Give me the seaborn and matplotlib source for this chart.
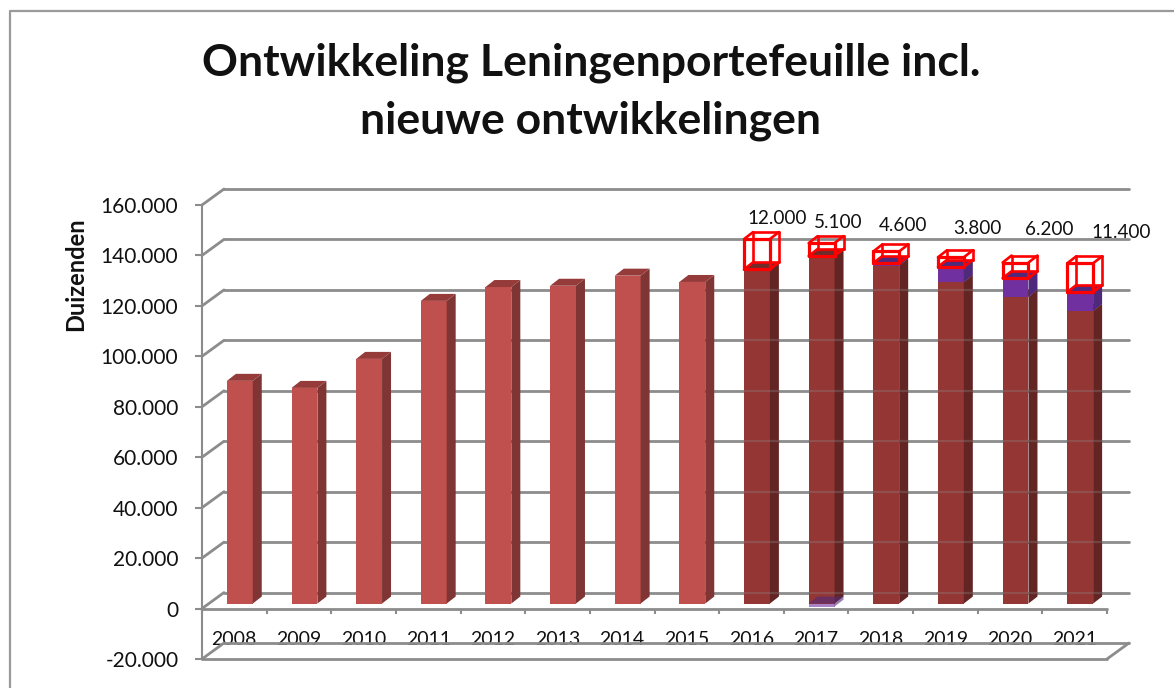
import numpy as np
import pandas as pd
import matplotlib
matplotlib.use("Agg")
import matplotlib.pyplot as plt
from matplotlib.lines import Line2D
from matplotlib.patches import Polygon
from matplotlib.ticker import FuncFormatter, FixedLocator
from matplotlib.transforms import IdentityTransform, Affine2D
import seaborn as sns

# ---- data -------------------------------------------------------------
YEARS = ["2008", "2009", "2010", "2011", "2012", "2013", "2014",
         "2015", "2016", "2017", "2018", "2019", "2020", "2021"]
REALIZED = [88300, 85500, 97000, 120000, 125500, 126000, 130000, 127500,
            0, 0, 0, 0, 0, 0]
PLANNED = [0, 0, 0, 0, 0, 0, 0, 0,
           132500, 137800, 134000, 127500, 121600, 116000]
EXTRA = [0, 0, 0, 0, 0, 0, 0, 0,
         0, -1200, 1000, 6000, 7400, 7500]
NEW_DEV = [0, 0, 0, 0, 0, 0, 0, 0,
           12000, 5100, 4600, 3800, 6200, 11400]
Y_TICKS = [-20000, 0, 20000, 40000, 60000, 80000, 100000, 120000, 140000, 160000]
TITLE = "Ontwikkeling Leningenportefeuille incl.\nnieuwe ontwikkelingen"
Y_LABEL = "Duizenden"

# ---- style (pixels in the 1174x688 picture) ---------------------------
W, H = 1174, 688
LEFT, RIGHT, TOP_Y, BOTTOM_Y = 202, 1107, 205, 659
WALL = (22, 16)        # depth of the chart box
BAR_SHIFT = (5.5, 5)   # bars stand in the middle of the depth
BAR_DEPTH = (9, 7)
LABEL_SHIFT = [(20, 21), (17, 21), (16.5, 26), (26, 29), (34, 33), (41, 31)]
GRID = "#8C8C8C"
C_REAL = ("#C0504D", "#7E3533", "#953B39")
C_PLAN = ("#943634", "#632523", "#6E2B2A")
C_EXTRA = ("#7030A0", "#4F2A7C", "#4F2A7C")
C_BOX = "#FF0000"
FONT = ["Lato", "DejaVu Sans"]

sns.set_theme(style="white")
plt.rcParams["font.family"] = FONT

fig = plt.figure(figsize=(W / 100, H / 100), dpi=100)
ax = fig.add_axes([LEFT / W, 1 - BOTTOM_Y / H, (RIGHT - LEFT) / W, (BOTTOM_Y - TOP_Y) / H])
ax.patch.set_alpha(0)

real = np.array(REALIZED, float)
plan = np.array(PLANNED, float)
extra = np.array(EXTRA, float)
new = np.array(NEW_DEV, float)
extra_bottom = np.where(extra < 0, 0, plan)
box_bottom = plan + np.maximum(extra, 0)


def layer(values, bottom, **kws):
    """One stacked layer through seaborn; returns its new bar patches."""
    before = len(ax.patches)
    frame = pd.DataFrame({"jaar": YEARS, "waarde": values})
    sns.barplot(data=frame, x="jaar", y="waarde", order=YEARS, width=0.4,
                saturation=1, errorbar=None, bottom=bottom, ax=ax, linewidth=0, **kws)
    return list(ax.patches[before:])


bars_real = layer(real, 0, color=C_REAL[0], zorder=3)
bars_plan = layer(plan, 0, color=C_PLAN[0], zorder=3)
bars_extra = layer(extra, extra_bottom, color=C_EXTRA[0], zorder=3.2)
bars_box = layer(new, box_bottom, color=C_BOX, zorder=5)

ax.set_xlim(-0.5, len(YEARS) - 0.5)
ax.set_ylim(-20000, 160000)
ax.set_xlabel("")
ax.set_ylabel("")
ax.grid(False)
fig.canvas.draw()


def to_px(x, y):
    return ax.transData.transform((x, y))


def poly(points, color, z, alpha=1):
    ax.add_patch(Polygon(points, closed=True, facecolor=color, edgecolor="none", alpha=alpha,
                         transform=IdentityTransform(), zorder=z, clip_on=False))


def seg(p, q, color=GRID, lw=2.0, z=1, alpha=1):
    ax.add_line(Line2D([p[0], q[0]], [p[1], q[1]], color=color, lw=lw, alpha=alpha,
                       transform=IdentityTransform(), zorder=z, clip_on=False,
                       solid_capstyle="round"))


def corners(bar):
    x0, y0 = bar.get_xy()
    a = to_px(x0, y0) + BAR_SHIFT
    b = to_px(x0 + bar.get_width(), y0 + bar.get_height()) + BAR_SHIFT
    return a[0], a[1], b[0], b[1]


def solid(bars, colors, z):
    dx, dy = BAR_DEPTH
    for bar in bars:
        height = bar.get_height()
        bar.set_visible(False)
        if height == 0:
            continue
        x0, y0, x1, y1 = corners(bar)
        alpha = 0.6 if height < 0 else 1
        y_low, y_high = min(y0, y1), max(y0, y1)
        poly([(x0, y_low), (x1, y_low), (x1, y_high), (x0, y_high)], colors[0], z, alpha)
        poly([(x1, y_low), (x1 + dx, y_low + dy), (x1 + dx, y_high + dy), (x1, y_high)], colors[1], z, alpha)
        poly([(x0, y_high), (x1, y_high), (x1 + dx, y_high + dy), (x0 + dx, y_high + dy)], colors[2], z, alpha)


solid(bars_real, C_REAL, 3)
solid(bars_plan, C_PLAN, 3)
solid(bars_extra, C_EXTRA, 3.2)

# wire-frame boxes and their labels
dx, dy = BAR_DEPTH
label_iter = iter(LABEL_SHIFT)
for bar, val in zip(bars_box, new):
    bar.set_visible(False)
    if val == 0:
        continue
    x0, y0, x1, y1 = corners(bar)
    front = [(x0, y0), (x1, y0), (x1, y1), (x0, y1), (x0, y0)]
    back = [(x + dx, y + dy) for x, y in front]
    for a, b in zip(front[:-1], front[1:]):
        seg(a, b, C_BOX, 2.3, 6)
    for a, b in zip(back[:-1], back[1:]):
        seg(a, b, C_BOX, 1.9, 6)
    for a, b in zip(front[:-1], back[:-1]):
        seg(a, b, C_BOX, 1.9, 6)
    sx, sy = next(label_iter)
    ax.text((x0 + x1) / 2 + sx, y1 + sy, f"{val:,.0f}".replace(",", "."),
            transform=IdentityTransform(), ha="center", va="center",
            fontsize=13.6, color="#111111", zorder=7, clip_on=False)

# chart box: walls, floor, base
wx, wy = WALL
n = len(YEARS)
for v in Y_TICKS:
    f0 = to_px(-0.5, v)
    f1 = to_px(n - 0.5, v)
    seg(f0, f0 + (wx, wy))
    seg(f0 + (wx, wy), f1 + (wx, wy))
    # the wall lines shimmer faintly through the dark bars
    for bar, val in zip(bars_plan, plan):
        if val and v >= 0 and v + wy / 2.52 * 1000 < val:
            x0, _, x1, _ = corners(bar)
            seg((x0, f0[1] + wy), (x1 + BAR_DEPTH[0], f0[1] + wy), lw=1.6, z=4, alpha=0.3)
seg(to_px(-0.5, 0), to_px(n - 0.5, 0))
seg(to_px(-0.5, -20000), to_px(n - 0.5, -20000))
seg(to_px(n - 0.5, -20000), to_px(n - 0.5, -20000) + (wx, wy))

# axes, ticks, labels
for side in ("top", "right"):
    ax.spines[side].set_visible(False)
ax.spines["left"].set_color(GRID)
ax.spines["left"].set_linewidth(1.5)
ax.spines["bottom"].set_visible(False)
ax.yaxis.set_major_locator(FixedLocator(Y_TICKS))
ax.yaxis.set_major_formatter(FuncFormatter(lambda v, _: f"{v:,.0f}".replace(",", ".")))
ax.tick_params(axis="y", which="major", left=True, length=5, width=1.5, color=GRID,
               pad=12, labelsize=15, labelcolor="#111111")
for label in ax.get_yticklabels():
    label.set_verticalalignment("center")
    label.set_transform(label.get_transform() + Affine2D().translate(0, -2))
ax.xaxis.set_ticks_position("bottom")
ax.spines["bottom"].set_position(("data", 0))
ax.xaxis.set_minor_locator(FixedLocator(np.arange(-0.5, len(YEARS), 1)))
ax.tick_params(axis="x", which="major", bottom=False, length=0, pad=16,
               labelsize=14, labelcolor="#111111")
ax.tick_params(axis="x", which="minor", bottom=True, length=3.5, width=1.5, color=GRID)

fig.text(76 / W, 1 - 274 / H, Y_LABEL, rotation=90, ha="center", va="center",
         fontsize=17, fontweight="bold", color="#111111")
fig.text(591 / W, 1 - 92 / H, TITLE, ha="center", va="center", fontsize=32,
         fontweight="bold", color="#111111", linespacing=1.52)

# chart frame, cut off by the picture
fig.add_artist(Line2D([10 / W, 10 / W, 1], [0, 1 - 11 / H, 1 - 11 / H],
                      color="#9A9A9A", lw=1.6, transform=fig.transFigure))

fig.savefig("out.png", dpi=100)
